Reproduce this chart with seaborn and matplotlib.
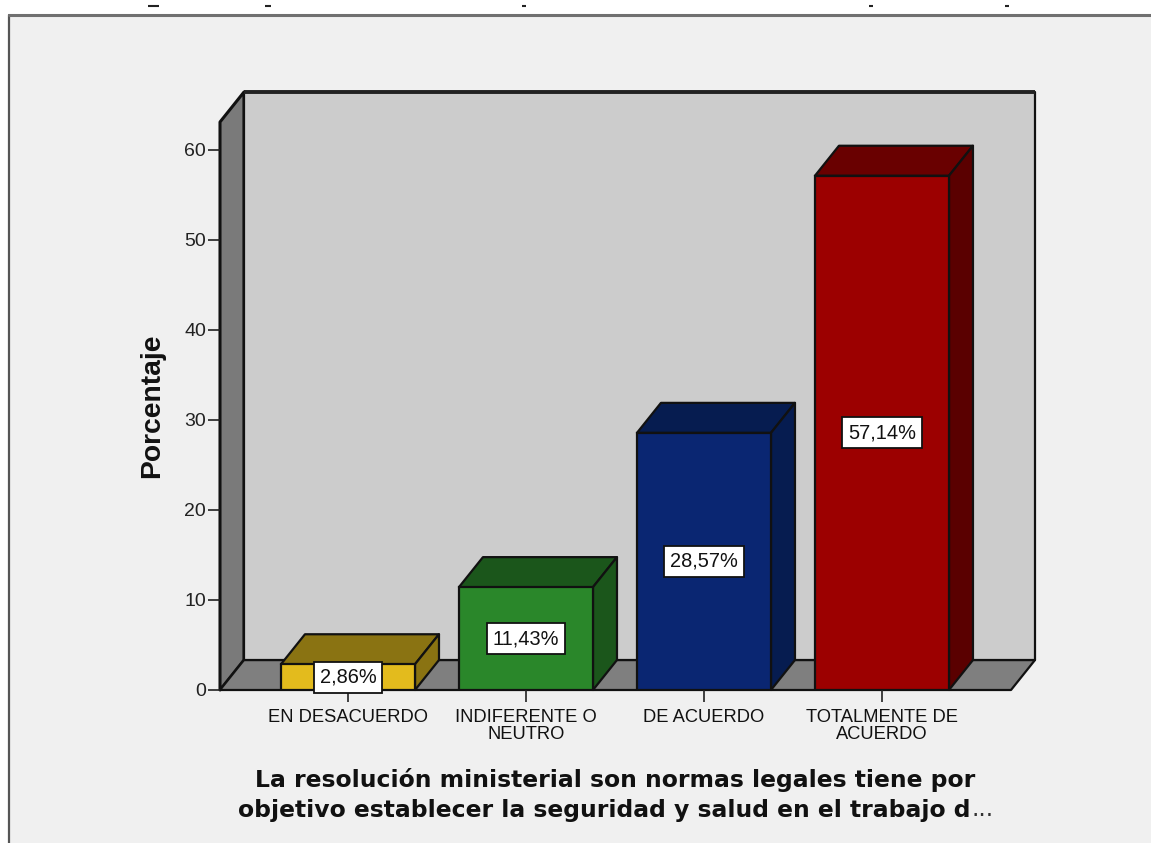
import matplotlib
matplotlib.use("Agg")
import matplotlib.pyplot as plt
import seaborn as sns
import pandas as pd
from matplotlib.patches import Polygon, Rectangle

categories = ["EN DESACUERDO", "INDIFERENTE O\nNEUTRO", "DE ACUERDO", "TOTALMENTE DE\nACUERDO"]
values = [2.86, 11.43, 28.57, 57.14]
front_colors = ["#e3bb1d", "#2a872a", "#0a2672", "#9c0000"]
top_colors = ["#8a7312", "#1b561b", "#061c50", "#690000"]
side_colors = ["#8a7312", "#1b561b", "#061c50", "#5a0000"]
yticks = [0, 10, 20, 30, 40, 50, 60]
xlabel_line1 = "La resolución ministerial son normas legales tiene por"
xlabel_line2 = "objetivo establecer la seguridad y salud en el trabajo d"
ylabel = "Porcentaje"
# specks left by a title cropped away at the top edge: (start px, end px)
cut_title_specks = [(148, 159), (265, 271), (522, 526), (869, 873), (1005, 1009)]

W, H = 1151, 843
sns.set_theme(style="white")
plt.rcParams["font.family"] = ["Liberation Sans", "DejaVu Sans"]

fig = plt.figure(figsize=(W / 100, H / 100), dpi=100, facecolor="white")
fig.add_artist(Rectangle((9 / W, 0), 1 - 9 / W, 1 - 14.5 / H, transform=fig.transFigure,
                         facecolor="#f0f0f0", edgecolor="none", zorder=-3))
fig.add_artist(plt.Line2D([9 / W, 9 / W], [0, 1 - 14.5 / H], transform=fig.transFigure, color="#555555", lw=1.6, zorder=-2))
fig.add_artist(plt.Line2D([9 / W, 1], [1 - 14.5 / H, 1 - 14.5 / H], transform=fig.transFigure, color="#707070", lw=2.2, zorder=-2))

for a, b in cut_title_specks:
    fig.add_artist(plt.Line2D([a / W, b / W], [1 - 5.5 / H, 1 - 5.5 / H], transform=fig.transFigure,
                              color="#222222", lw=1.5, solid_capstyle="butt", zorder=-2))

ax = fig.add_axes([220 / W, 1 - 690 / H, (1011 - 220) / W, (690 - 122) / H])
ax.patch.set_visible(False)

df = pd.DataFrame({"cat": categories, "val": values})
sns.barplot(data=df, x="cat", y="val", hue="cat", palette=front_colors, legend=False,
            width=0.753, edgecolor="#111111", linewidth=1.6, saturation=1, ax=ax, zorder=1)

x0, x1 = -0.719, 3.725
y0, y1 = 0, (690 - 122) / 9
ax.set_xlim(x0, x1)
ax.set_ylim(y0, y1)
dx, dy = 24 / 178, 30 / 9


def poly(pts, fc, z, lw=1.6):
    ax.add_patch(Polygon(pts, closed=True, facecolor=fc, edgecolor="#111111", lw=lw,
                         zorder=z, clip_on=False, joinstyle="round"))


# walls and floor
poly([(x0, y0), (x0 + dx, y0 + dy), (x0 + dx, y1 + dy), (x0, y1)], "#7a7a7a", 0.3, lw=2.2)
poly([(x0, y0), (x0 + dx, y0 + dy), (x1 + dx, y0 + dy), (x1, y0)], "#7f7f7f", 0.3)
poly([(x0 + dx, y0 + dy), (x0 + dx, y1 + dy), (x1 + dx, y1 + dy), (x1 + dx, y0 + dy)], "#cccccc", 0.4)
ax.plot([x0 + dx, x1 + dx], [y1 + dy, y1 + dy], color="#222222", lw=2.8, zorder=0.5, clip_on=False,
        solid_capstyle="butt")

# depth faces of the bars, label boxes
for i, (p, v) in enumerate(zip(ax.patches[:len(values)], values)):
    l, r = p.get_x(), p.get_x() + p.get_width()
    poly([(l, v), (l + dx, v + dy), (r + dx, v + dy), (r, v)], top_colors[i], 0.9)
    poly([(r, 0), (r + dx, dy), (r + dx, v + dy), (r, v)], side_colors[i], 0.9)
    ax.text(i, v / 2, f"{v:.2f}%".replace(".", ","), ha="center", va="center", fontsize=14.4,
            color="#111111", zorder=5,
            bbox=dict(boxstyle="square,pad=0.3", facecolor="white", edgecolor="#111111", lw=1.3))

sns.despine(ax=ax, left=True, bottom=True)
ax.set_yticks(yticks)
ax.tick_params(axis="y", length=8.5, width=1.2, color="#222222", labelsize=14, pad=1.5, left=True, labelcolor="#222222")
ax.tick_params(axis="x", length=8.5, width=1.2, color="#222222", labelsize=13.2, pad=5.5, bottom=True, labelcolor="#111111")
for t in ax.get_xticklabels():
    t.set_linespacing(1.0)

ax.set_ylabel(ylabel, fontsize=20.3, fontweight="bold", color="#111111", labelpad=14)
ax.set_xlabel("")

fig.text(615 / W, 1 - 780 / H, xlabel_line1, ha="center", va="center", fontsize=16.9, fontweight="bold",
         family=["DejaVu Sans"], color="#111111")
line2 = fig.text(238 / W, 1 - 810 / H, xlabel_line2, ha="left", va="center", fontsize=16.9, fontweight="bold",
                 family=["DejaVu Sans"], color="#111111")
ax.annotate("...", xy=(1, 0), xycoords=line2, xytext=(1, 0), textcoords="offset points",
            ha="left", va="bottom", fontsize=17, family=["DejaVu Sans"], color="#333333",
            annotation_clip=False)

fig.savefig("out.png", dpi=100, facecolor=fig.get_facecolor())
